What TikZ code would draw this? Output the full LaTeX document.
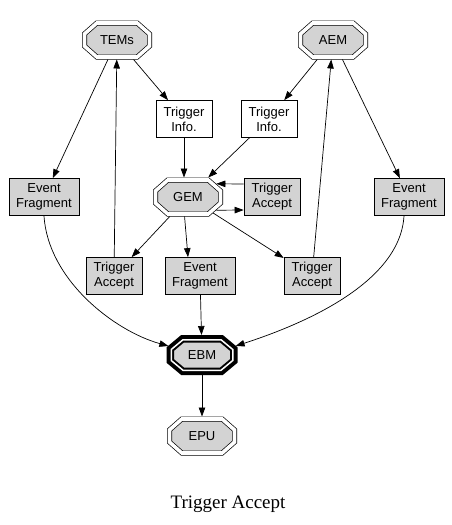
\documentclass[tikz,border=0pt]{standalone}
\usepackage{fontspec}
\setmainfont{Liberation Sans}
\newfontfamily\capfont{Liberation Serif}
\usetikzlibrary{arrows.meta}
\definecolor{gvgray}{RGB}{211,211,211}
\newcommand{\nodefnt}{\fontsize{13}{15}\selectfont}
\makeatletter
\def\gvrx{0.62}
\def\gvry{0.36}
\def\gv@P#1#2{\pgfpointadd{\pgfqpoint{\gv@cx}{\gv@cy}}{\pgfqpoint{#1}{#2}}}
\pgfdeclareshape{gvocto}{%
  \inheritsavedanchors[from=rectangle]%
  \inheritanchor[from=rectangle]{center}%
  \inheritanchor[from=rectangle]{text}%
  \inheritanchor[from=rectangle]{mid}%
  \inheritanchor[from=rectangle]{base}%
  \inheritanchor[from=rectangle]{north}%
  \inheritanchor[from=rectangle]{south}%
  \inheritanchor[from=rectangle]{east}%
  \inheritanchor[from=rectangle]{west}%
  \anchorborder{%
    \pgfpointnormalised{\pgfqpoint{\pgf@x}{\pgf@y}}%
    \edef\gv@dx{\pgf@sys@tonumber{\pgf@x}}%
    \edef\gv@dy{\pgf@sys@tonumber{\pgf@y}}%
    \southwest \pgf@xa=\pgf@x \pgf@ya=\pgf@y
    \northeast \pgf@xb=\pgf@x \pgf@yb=\pgf@y
    \pgf@xc=\pgf@xb \advance\pgf@xc by -\pgf@xa \pgf@xc=.5\pgf@xc
    \pgf@yc=\pgf@yb \advance\pgf@yc by -\pgf@ya \pgf@yc=.5\pgf@yc
    \edef\gv@a{\pgf@sys@tonumber{\pgf@xc}}%
    \edef\gv@b{\pgf@sys@tonumber{\pgf@yc}}%
    \advance\pgf@xa by \pgf@xc
    \advance\pgf@ya by \pgf@yc
    \edef\gv@cx{\the\pgf@xa}%
    \edef\gv@cy{\the\pgf@ya}%
    \pgfmathsetmacro\gv@p{100*abs(\gv@dx)/\gv@a}%
    \pgfmathsetmacro\gv@q{100*abs(\gv@dy)/\gv@b}%
    \pgfmathsetmacro\gv@r{((1-\gvry)*\gv@p+(1-\gvrx)*\gv@q)/((1-\gvry)+(1-\gvrx)*\gvry)}%
    \pgfmathsetmacro\gv@t{100/max(\gv@p,\gv@q,\gv@r)}%
    \pgf@x=\gv@t pt \pgf@x=\gv@dx\pgf@x \advance\pgf@x by \gv@cx
    \pgf@y=\gv@t pt \pgf@y=\gv@dy\pgf@y \advance\pgf@y by \gv@cy
  }%
  \backgroundpath{%
    \southwest \pgf@xa=\pgf@x \pgf@ya=\pgf@y
    \northeast \pgf@xb=\pgf@x \pgf@yb=\pgf@y
    \pgfmathsetlength\pgf@xc{\pgfkeysvalueof{/pgf/outer xsep}}%
    \pgfmathsetlength\pgf@yc{\pgfkeysvalueof{/pgf/outer ysep}}%
    \advance\pgf@xa by\pgf@xc \advance\pgf@ya by\pgf@yc
    \advance\pgf@xb by-\pgf@xc \advance\pgf@yb by-\pgf@yc
    \pgf@xc=\pgf@xb \advance\pgf@xc by-\pgf@xa \pgf@xc=.5\pgf@xc
    \pgf@yc=\pgf@yb \advance\pgf@yc by-\pgf@ya \pgf@yc=.5\pgf@yc
    \advance\pgf@xa by\pgf@xc \advance\pgf@ya by\pgf@yc
    \edef\gv@cx{\the\pgf@xa}\edef\gv@cy{\the\pgf@ya}%
    \edef\gv@a{\the\pgf@xc}\edef\gv@b{\the\pgf@yc}%
    \pgf@xb=\gvrx\pgf@xc \pgf@yb=\gvry\pgf@yc
    \edef\gv@f{\the\pgf@xb}\edef\gv@e{\the\pgf@yb}%
    \pgfpathmoveto{\gv@P{\gv@a}{\gv@e}}%
    \pgfpathlineto{\gv@P{\gv@f}{\gv@b}}%
    \pgfpathlineto{\gv@P{-\gv@f}{\gv@b}}%
    \pgfpathlineto{\gv@P{-\gv@a}{\gv@e}}%
    \pgfpathlineto{\gv@P{-\gv@a}{-\gv@e}}%
    \pgfpathlineto{\gv@P{-\gv@f}{-\gv@b}}%
    \pgfpathlineto{\gv@P{\gv@f}{-\gv@b}}%
    \pgfpathlineto{\gv@P{\gv@a}{-\gv@e}}%
    \pgfpathclose
  }%
}
\makeatother
\begin{document}
\begin{tikzpicture}[x=1pt,y=-1pt,
  octo/.style={shape=gvocto, minimum width=65pt, minimum height=34pt,
    inner sep=0pt, outer sep=2.5pt, draw, double, double distance=3.6pt,
    line width=0.7pt, fill=gvgray, font=\nodefnt},
  rim/.style={shape=gvocto, minimum width=61.5pt, minimum height=30.5pt,
    inner sep=0pt, outer sep=4.75pt, draw, line width=9.5pt},
  boldocto/.style={octo, minimum width=61.5pt, minimum height=30.5pt,
    line width=2pt, double distance=1.5pt, outer sep=4.75pt},
  box/.style={rectangle, draw, line width=0.7pt, fill=gvgray,
    minimum width=56pt, minimum height=37pt, inner sep=0pt,
    align=center, font=\nodefnt},
  wbox/.style={box, fill=white},
  ebox/.style={box, minimum width=70pt},
  arr/.style={draw, line width=0.7pt, -{Triangle[length=9pt,width=6.5pt]}}]
\useasboundingbox (0,0) rectangle (452,525);

\node[octo] (tems) at (117,40) {TEMs};
\node[octo] (aem) at (333,40) {AEM};
\node[wbox] (ti1) at (184,119) {Trigger\\Info.};
\node[wbox] (ti2) at (269,119) {Trigger\\Info.};
\node[octo] (gem) at (188,197) {GEM};
\node[box] (tar) at (272,197) {Trigger\\Accept};
\node[ebox] (efl) at (44,197) {Event\\Fragment};
\node[ebox] (efr) at (409,197) {Event\\Fragment};
\node[box] (tabl) at (114,276) {Trigger\\Accept};
\node[ebox] (efm) at (200,276) {Event\\Fragment};
\node[box] (tabr) at (312,276) {Trigger\\Accept};
\node[rim] (ebmrim) at (202,355) {};
\node[boldocto] (ebm) at (202,355) {EBM};
\node[octo] (epu) at (202,436) {EPU};
\node[font=\capfont\fontsize{19}{22}\selectfont] (cap) at (228,504) {Trigger Accept};

\draw[arr] (tems) -- (ti1);
\draw[arr] (tems) -- (efl);
\draw[arr] (tabl) -- (tems);
\draw[arr] (aem) -- (ti2);
\draw[arr] (aem) -- (efr);
\draw[arr] (tabr) -- (aem);
\draw[arr] (ti1.south) -- (ti1.south |- gem.north);
\draw[arr] (ti2) -- (gem);
\draw[arr] ([yshift=13pt]tar.west) -- (gem.25);
\draw[arr] (gem.-25) -- ([yshift=-13pt]tar.west);
\draw[arr] (gem) -- (tabl);
\draw[arr] (gem.-100) -- ([xshift=-12pt]efm.north);
\draw[arr] (gem) -- (tabr);
\draw[arr] (efl.south) .. controls +(4,64) and +(-54,-15) .. (ebm.165);
\draw[arr] ([xshift=-5pt]efr.south) .. controls +(-4,69) and +(62,-20) .. (ebm.15);
\draw[arr] (efm) -- (ebm);
\draw[arr] (ebm) -- (epu);
\end{tikzpicture}
\end{document}
